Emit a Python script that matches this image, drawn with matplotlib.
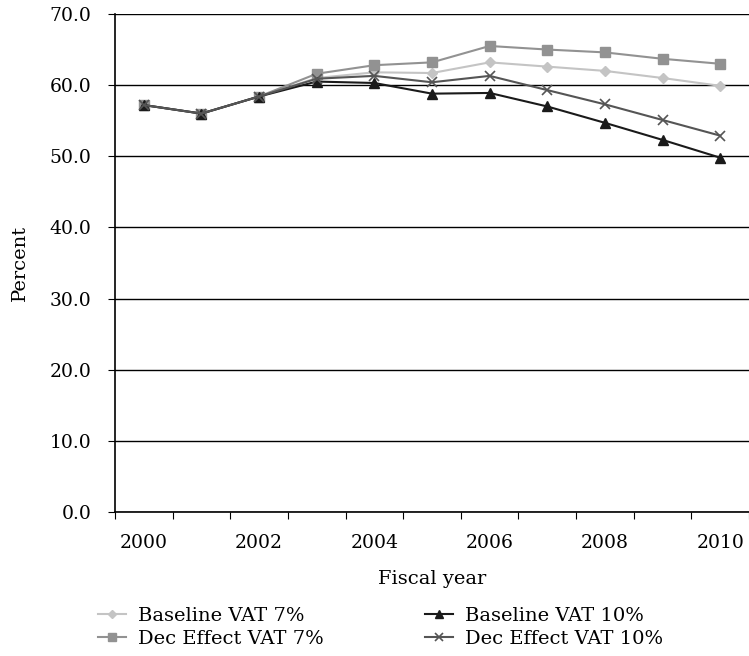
import numpy as np
import matplotlib
matplotlib.use('Agg')
import matplotlib.pyplot as plt

# Values
years = ['2000', '2001', '2002', '2003', '2004', '2005', '2006', '2007', '2008', '2009', '2010']
baseline_7 = [57.2, 56.0, 58.4, 61.0, 61.8, 61.7, 63.2, 62.6, 62.0, 61.0, 59.9]
dec_effect_7 = [57.2, 56.0, 58.4, 61.6, 62.8, 63.2, 65.5, 65.0, 64.6, 63.7, 63.0]
baseline_10 = [57.2, 56.0, 58.4, 60.5, 60.3, 58.8, 58.9, 57.0, 54.7, 52.3, 49.8]
dec_effect_10 = [57.2, 56.0, 58.4, 60.9, 61.3, 60.4, 61.3, 59.3, 57.3, 55.1, 52.9]

plt.rcParams['font.family'] = ['DejaVu Serif']
plt.rcParams['font.size'] = 14

fig = plt.figure(figsize=(7.49, 6.56), dpi=100)
ax = fig.add_axes([0.1535, 0.2195, 0.8465, 0.7592])

x = np.arange(len(years))
ax.plot(x, baseline_7, color='#c4c4c4', marker='D', markersize=5, lw=1.5, label='Baseline VAT 7%')
ax.plot(x, dec_effect_7, color='#929292', marker='s', markersize=6.5, lw=1.5, label='Dec Effect VAT 7%')
ax.plot(x, baseline_10, color='#1a1a1a', marker='^', markersize=7, lw=1.5, label='Baseline VAT 10%')
ax.plot(x, dec_effect_10, color='#555555', marker='x', markersize=7, mew=1.2, lw=1.5, label='Dec Effect VAT 10%')

ax.set_xlim(-0.5, len(years) - 0.5)
ax.set_ylim(0, 70)
ax.set_yticks(np.arange(0, 71, 10))
ax.set_yticklabels(['%.1f' % v for v in np.arange(0, 71, 10)])
ax.yaxis.grid(True, color='black', lw=1)
ax.set_axisbelow(True)

# tick marks between categories, labels on every second year
ax.set_xticks(np.arange(-0.5, len(years), 1.0))
ax.set_xticklabels([])
ax.set_xticks(x[::2], minor=True)
ax.set_xticklabels(years[::2], minor=True)
ax.tick_params(axis='x', which='major', length=5, direction='out')
ax.tick_params(axis='x', which='minor', length=0, pad=16, labelsize=13.5)
ax.tick_params(axis='y', length=5, pad=12, labelsize=13.5)

for s in ['top', 'right']:
    ax.spines[s].set_visible(False)
ax.spines['left'].set_linewidth(1.2)
ax.spines['bottom'].set_linewidth(1.2)

ax.set_xlabel('Fiscal year', labelpad=13)
ax.set_ylabel('Percent', labelpad=15)

ax.legend(loc='upper left', bbox_to_anchor=(-0.0513, -0.159), ncol=2, frameon=False,
          handlelength=1.45, columnspacing=5.2, labelspacing=0.27, handletextpad=0.62,
          markerscale=0.8, borderpad=0.3)

fig.savefig('out.png', dpi=100)
